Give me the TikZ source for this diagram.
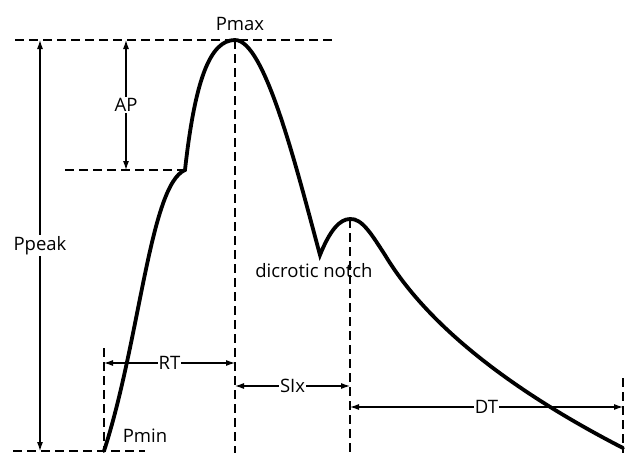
\documentclass[tikz,border=0pt]{standalone}
\usepackage{fontspec}
\setmainfont{Open Sans}
\usetikzlibrary{arrows.meta}

\begin{document}
\begin{tikzpicture}[x=1pt, y=-1pt, >={Latex[length=9pt,width=6pt]},
    guide/.style={dash pattern=on 9pt off 5pt, line width=1.1pt},
    dim/.style={<->, line width=1.1pt},
    wave/.style={line width=3.8pt, line cap=round},
    lbl/.style={font=\fontsize{18.5}{22}\selectfont, inner sep=1pt},
    tag/.style={lbl, fill=white}]
    \useasboundingbox (0,0) rectangle (630,453);

    % Points on the wave
    \coordinate (pmin) at (104,451);
    \coordinate (shoulder) at (185,170);
    \coordinate (pmax) at (235,40);
    \coordinate (notch) at (320,255);
    \coordinate (dpeak) at (350,219);
    \coordinate (tail) at (623,448);

    % Guide ends
    \coordinate (top-l) at (15,40);
    \coordinate (top-r) at (333,40);
    \coordinate (sh-l) at (65,170);
    \coordinate (bot-l) at (13,451);
    \coordinate (bot-r) at (145,451);
    \coordinate (pmin-up) at (104,348);
    \coordinate (pmax-dn) at (235,453);
    \coordinate (dpeak-dn) at (350,453);
    \coordinate (tail-up) at (623,378);
    \coordinate (tail-dn) at (623,453);

    % Dashed guides
    \draw[guide] (top-l) -- (top-r);
    \draw[guide] (sh-l) -- (shoulder);
    \draw[guide] (bot-l) -- (bot-r);
    \draw[guide] (pmin-up) -- (pmin);
    \draw[guide] (pmax) -- (pmax-dn);
    \draw[guide] (dpeak) -- (dpeak-dn);
    \draw[guide] (tail-up) -- (tail-dn);

    % Wave
    \draw[wave] (pmin) .. controls (140,340) and (150,185) .. (shoulder)
        .. controls (195,80) and (210,40) .. (pmax)
        .. controls (265,40) and (297,170) .. (notch)
        .. controls (330,230) and (340,219) .. (dpeak)
        .. controls (362,218) and (372,235) .. (385,255)
        .. controls (430,330) and (520,395) .. (tail);

    % Labels
    \node[lbl, anchor=base] (lpmax) at (240,30) {Pmax};
    \node[lbl, anchor=base] (lpmin) at (145,442) {Pmin};
    \node[lbl, anchor=base] (lnotch) at (314,277) {dicrotic notch};

    % Arrows
    \draw[dim] (40,40) coordinate (pp-top) -- node[tag] (ppeak) {Ppeak} (40,451) coordinate (pp-bot);
    \draw[dim] (126,40) coordinate (ap-top) -- node[tag] (ap) {AP} (126,170) coordinate (ap-bot);
    \draw[dim] (104,363) coordinate (rt-l) -- node[tag] (rt) {RT} (235,363) coordinate (rt-r);
    \draw[dim] (235,386) coordinate (si-l) -- node[tag] (six) {SIx} (350,386) coordinate (si-r);
    \draw[dim] (350,407) coordinate (dt-l) -- node[tag] (dt) {DT} (623,407) coordinate (dt-r);
\end{tikzpicture}
\end{document}
